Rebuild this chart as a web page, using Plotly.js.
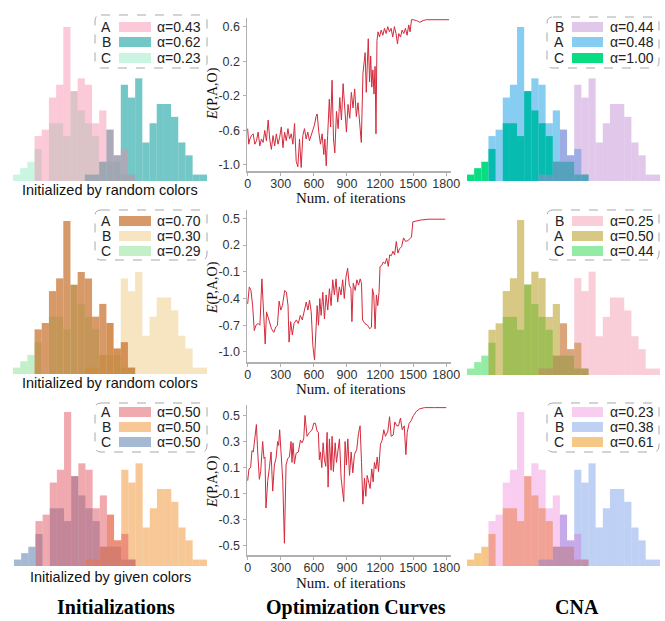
<!DOCTYPE html>
<html><head><meta charset="utf-8">
<script src="https://cdn.plot.ly/plotly-3.0.1.min.js"></script>
<style>html,body{margin:0;padding:0;background:#fff}#chart{width:665px;height:621px}</style>
</head><body><div id="chart"></div>
<script>
// ---------- DATA ----------
const bins = [0,1,2,3,4,5,6,7,8,9,10,11,12,13,14,15,16,17,18,19,20,21,22,23,24,25,26];
const countsA = [0,0,0,7,8,13,15,24,14,16,15,9,11,8,4,5,1,0,0,0,0,0,0,0,0,0,0];
const countsB = [0,0,0,0,0,0,0,0,0,0,1,1,3,8,4,15,13,16,6,9,12,12,10,6,4,1,1];
const countsC = [1,2,3,5,0,9,9,7,14,11,9,7,3,3,3,1,1,0,0,0,0,0,0,0,0,0,0];

const iters1 = [0,10,20,35,50,65,80,95,110,125,140,155,170,186,200,215,230,245,260,275,290,305,320,335,350,365,380,395,410,425,440,455,470,485,500,515,530,545,560,575,590,605,620,630,645,660,675,690,700,712,725,740,752,765,778,790,805,820,835,850,865,880,895,910,925,940,955,970,985,1000,1015,1030,1045,1055,1065,1075,1085,1093,1105,1115,1125,1135,1145,1155,1163,1172,1182,1195,1210,1225,1240,1255,1270,1285,1300,1315,1330,1345,1358,1370,1385,1400,1415,1430,1445,1460,1472,1485,1500,1530,1560,1590,1620,1700,1800,1825];
const energy1 = [-0.58,-0.76,-0.70,-0.66,-0.64,-0.76,-0.72,-0.62,-0.78,-0.70,-0.74,-0.60,-0.72,-0.48,-0.70,-0.82,-0.66,-0.78,-0.64,-0.76,-0.68,-0.56,-0.80,-0.62,-0.72,-0.58,-0.70,-0.64,-0.76,-0.52,-0.96,-1.02,-0.70,-1.03,-0.66,-0.58,-0.70,-0.62,-0.72,-0.66,-0.60,-0.54,-0.44,-0.41,-0.62,-0.76,-0.64,-0.88,-0.70,-1.01,-0.66,-0.24,-0.56,-0.02,-0.70,-0.86,-0.38,-0.58,-0.22,-0.48,-0.06,-0.40,-0.62,-0.30,-0.46,-0.16,-0.34,-0.12,-0.44,-0.28,-0.56,-0.74,0.06,0.22,0.30,-0.16,0.20,0.46,-0.04,0.26,-0.10,0.10,-0.18,0.14,-0.64,0.44,0.54,0.48,0.56,0.50,0.58,0.52,0.60,0.54,0.58,0.48,0.60,0.52,0.40,0.52,0.48,0.56,0.52,0.58,0.50,0.62,0.54,0.68,0.68,0.67,0.65,0.67,0.68,0.68,0.68,0.68];

const iters2 = [0,15,30,45,60,75,96,111,129,141,159,171,186,201,216,237,255,270,285,300,315,336,351,366,375,390,405,420,441,459,477,495,513,531,546,561,576,591,606,618,630,642,654,666,681,696,711,726,741,756,771,786,801,816,831,846,861,876,891,906,921,936,945,957,975,990,1005,1020,1032,1041,1062,1086,1107,1122,1131,1143,1155,1167,1179,1191,1200,1215,1230,1245,1260,1275,1287,1302,1317,1332,1347,1362,1377,1395,1413,1431,1452,1470,1485,1497,1521,1566,1641,1791];
const energy2 = [-0.46,-0.27,-0.31,-0.48,-0.76,-0.70,-0.68,-0.70,-0.18,-0.48,-0.91,-0.55,-0.62,-0.66,-0.74,-0.78,-0.72,-0.70,-0.43,-0.53,-0.48,-0.31,-0.33,-0.48,-0.89,-0.66,-0.81,-0.68,-0.64,-0.68,-0.59,-0.64,-0.55,-0.44,-0.53,-0.42,-0.55,-0.93,-1.09,-0.74,-0.48,-0.70,-0.40,-0.59,-0.33,-0.63,-0.36,-0.53,-0.29,-0.48,-0.19,-0.36,-0.18,-0.44,-0.27,-0.36,-0.19,-0.40,-0.16,-0.06,-0.25,-0.29,-0.66,-0.23,-0.31,-0.19,-0.25,-0.18,-0.23,-0.64,-0.68,-0.70,-0.74,-0.72,-0.29,-0.36,-0.74,-0.36,-0.48,-0.33,-0.04,-0.03,0.01,-0.01,0.05,-0.04,0.09,0.08,0.13,0.09,0.24,0.11,0.16,0.18,0.28,0.24,0.25,0.27,0.29,0.46,0.47,0.48,0.49,0.49];

const iters3 = [0,12,27,39,51,64,79,91,106,118,136,148,157,166,182,197,212,227,242,257,272,281,290,303,318,333,348,363,378,393,402,411,424,439,460,478,493,508,520,538,560,584,599,614,629,641,650,659,672,684,696,708,720,729,741,756,765,777,793,805,817,832,847,871,883,895,908,923,938,953,968,989,1004,1019,1032,1044,1059,1071,1083,1095,1110,1125,1137,1149,1162,1174,1186,1204,1219,1234,1249,1271,1286,1301,1319,1334,1352,1367,1385,1401,1419,1434,1446,1464,1482,1503,1528,1558,1603,1694,1800];
const energy3 = [0.00,0.09,0.10,0.23,0.22,0.31,0.43,0.22,0.01,0.07,0.30,0.17,0.18,-0.21,0.00,0.10,0.22,-0.08,0.12,0.17,0.30,0.27,0.39,0.21,0.00,-0.48,0.12,0.17,0.18,0.30,0.14,0.29,0.13,0.21,0.22,0.31,0.29,0.32,0.50,0.34,0.37,0.39,0.44,0.44,0.38,0.37,0.16,0.22,0.10,0.29,0.16,0.11,0.37,-0.05,0.32,0.08,0.34,0.07,0.29,0.14,0.24,0.32,0.02,-0.16,0.30,0.12,0.32,0.04,0.22,0.06,0.20,0.24,0.36,0.42,0.14,-0.18,0.02,-0.12,0.04,-0.01,-0.06,0.09,-0.01,0.14,0.09,0.18,0.07,0.28,0.31,0.39,0.34,0.38,0.49,0.34,0.35,0.45,0.42,0.42,0.48,0.39,0.42,0.20,0.37,0.44,0.46,0.50,0.53,0.55,0.56,0.56,0.56];

const xTicks = [0,300,600,900,1200,1500,1800];
const yTicks1 = [0.6,0.2,-0.2,-0.6,-1.0];
const yLabels1 = ['0.6','0.2','-0.2','-0.6','-1.0'];
const yTicks2 = [0.5,0.2,-0.1,-0.4,-0.7,-1.0];
const yLabels2 = ['0.5','0.2','-0.1','-0.4','-0.7','-1.0'];
const yTicks3 = [0.5,0.3,0.1,-0.1,-0.3,-0.5];
const yLabels3 = ['0.5','0.3','0.1','-0.1','-0.3','-0.5'];

const captions = ['Initialized by random colors','Initialized by random colors','Initialized by given colors'];
const columnTitles = ['Initializations','Optimization Curves','CNA'];
// ---------- END DATA ----------

const W = 665, H = 621;
const fx = v => v / W, fy = v => 1 - v / H;
const SANS = 'Liberation Sans, Arial, sans-serif';
const SERIF = 'Liberation Serif, Times New Roman, serif';
const counts = {A: countsA, B: countsB, C: countsC};

const histPanels = [
  {ax:1, xd:[13,207], yd:[181,27], legend:['A','B','C'],
   col:{A:'245,130,165',B:'30,165,165',C:'20,210,130'}, al:{A:0.43,B:0.62,C:0.23},
   box:[95,15,207,68], rows:[27,42,58], lx:106, sw:[119,151], ax2:179},
  {ax:3, xd:[467,660], yd:[181,27], legend:['B','A','C'],
   col:{A:'5,150,225',B:'187,130,210',C:'10,220,130'}, al:{A:0.48,B:0.44,C:1.00},
   box:[547,17,659,68], rows:[27,42,58], lx:559, sw:[572,603], ax2:632},
  {ax:4, xd:[13,207], yd:[374,221], legend:['A','B','C'],
   col:{A:'200,110,40',B:'225,170,45',C:'50,205,70'}, al:{A:0.70,B:0.30,C:0.29},
   box:[95,210,207,260], rows:[221,236,251], lx:106, sw:[119,151], ax2:179},
  {ax:6, xd:[467,660], yd:[375,220], legend:['B','A','C'],
   col:{A:'175,145,10',B:'230,60,100',C:'10,210,50'}, al:{A:0.50,B:0.25,C:0.44},
   box:[547,210,659,260], rows:[221,236,251], lx:559, sw:[572,603], ax2:632},
  {ax:7, xd:[14,207], yd:[566,412], legend:['A','B','C'],
   col:{A:'225,85,95',B:'240,145,45',C:'75,115,165'}, al:{A:0.50,B:0.50,C:0.50},
   box:[95,403,207,452], rows:[412,427,442], lx:106, sw:[119,151], ax2:179},
  {ax:9, xd:[467,660], yd:[566,412], legend:['A','B','C'],
   col:{A:'225,40,190',B:'85,135,230',C:'240,165,60'}, al:{A:0.23,B:0.38,C:0.61},
   box:[547,403,659,452], rows:[412,427,442], lx:559, sw:[572,603], ax2:632}
];

const linePanels = [
  {ax:2, yd:[171,18], range:[-1.07,0.70], x:iters1, y:energy1, tv:yTicks1, tt:yLabels1, titleY:198, ylab:94},
  {ax:5, yd:[362,210], range:[-1.1125,0.593], x:iters2, y:energy2, tv:yTicks2, tt:yLabels2, titleY:389, ylab:288},
  {ax:8, yd:[555,405], range:[-0.57,0.58], x:iters3, y:energy3, tv:yTicks3, tt:yLabels3, titleY:583, ylab:482}
];

function rrPath(x0,y0,x1,y1,r){
  const X=v=>fx(v).toFixed(5), Y=v=>fy(v).toFixed(5);
  return `M${X(x0+r)},${Y(y0)} L${X(x1-r)},${Y(y0)} Q${X(x1)},${Y(y0)} ${X(x1)},${Y(y0+r)} L${X(x1)},${Y(y1-r)} Q${X(x1)},${Y(y1)} ${X(x1-r)},${Y(y1)} L${X(x0+r)},${Y(y1)} Q${X(x0)},${Y(y1)} ${X(x0)},${Y(y1-r)} L${X(x0)},${Y(y0+r)} Q${X(x0)},${Y(y0)} ${X(x0+r)},${Y(y0)} Z`;
}

const traces = [];
const layout = {
  width: W, height: H, margin:{l:0,r:0,t:0,b:0},
  paper_bgcolor:'#ffffff', plot_bgcolor:'rgba(0,0,0,0)',
  barmode:'overlay', showlegend:false,
  shapes:[], annotations:[]
};
const axName = (p,i) => p + (i===1 ? '' : i);

histPanels.forEach(p => {
  const xa = axName('xaxis',p.ax), ya = axName('yaxis',p.ax);
  layout[xa] = {domain:[fx(p.xd[0]), fx(p.xd[1])], range:[-0.5,26.5], visible:false, anchor: axName('y',p.ax), fixedrange:true};
  layout[ya] = {domain:[fy(p.yd[0]), fy(p.yd[1])], range:[0,24], visible:false, anchor: axName('x',p.ax), fixedrange:true};
  const order = p.legend.slice().reverse();
  order.forEach(k => {
    traces.push({type:'bar', x:bins, y:counts[k], width:1,
      marker:{color:`rgba(${p.col[k]},${p.al[k]})`, line:{width:0}},
      xaxis:axName('x',p.ax), yaxis:axName('y',p.ax), hoverinfo:'skip'});
  });
  layout.shapes.push({type:'path', xref:'paper', yref:'paper', path:rrPath(p.box[0],p.box[1],p.box[2],p.box[3],6),
    line:{color:'#a8a8a8', width:1, dash:'dash'}, fillcolor:'rgba(255,255,255,0)'});
  p.legend.forEach((k,i) => {
    const ry = p.rows[i];
    layout.shapes.push({type:'rect', xref:'paper', yref:'paper', x0:fx(p.sw[0]), x1:fx(p.sw[1]), y0:fy(ry+5), y1:fy(ry-5),
      fillcolor:`rgba(${p.col[k]},${p.al[k]})`, line:{width:0}});
    layout.annotations.push({xref:'paper', yref:'paper', x:fx(p.lx), y:fy(ry), text:k, showarrow:false,
      xanchor:'center', yanchor:'middle', font:{family:SANS, size:14, color:'#222'}});
    layout.annotations.push({xref:'paper', yref:'paper', x:fx(p.ax2), y:fy(ry), text:'α='+p.al[k].toFixed(2), showarrow:false,
      xanchor:'center', yanchor:'middle', font:{family:SANS, size:14, color:'#222'}});
  });
});

linePanels.forEach(p => {
  const xa = axName('xaxis',p.ax), ya = axName('yaxis',p.ax);
  layout[xa] = {domain:[fx(247), fx(451)], range:[-6,1843], anchor:axName('y',p.ax),
    tickvals:xTicks, ticktext:xTicks.map(String), showline:true, linecolor:'#b0b0b0', linewidth:1.5,
    ticks:'outside', ticklen:3, tickcolor:'#b0b0b0', tickwidth:1, showgrid:false, zeroline:false,
    ticklabelstandoff:-3,
    tickfont:{family:SANS, size:12.5, color:'#333'}, fixedrange:true};
  layout[ya] = {domain:[fy(p.yd[0]), fy(p.yd[1])], range:p.range, anchor:axName('x',p.ax),
    tickvals:p.tv, ticktext:p.tt, showline:true, linecolor:'#b0b0b0', linewidth:1.5,
    ticks:'outside', ticklen:3, tickcolor:'#b0b0b0', tickwidth:1, showgrid:false, zeroline:false,
    tickfont:{family:SANS, size:12.5, color:'#333'}, fixedrange:true};
  traces.push({type:'scatter', mode:'lines', x:p.x, y:p.y, line:{color:'#d42a3c', width:1},
    xaxis:axName('x',p.ax), yaxis:axName('y',p.ax), hoverinfo:'skip'});
  layout.annotations.push({xref:'paper', yref:'paper', x:fx(351), y:fy(p.titleY), text:'Num. of iterations', showarrow:false,
    xanchor:'center', yanchor:'middle', font:{family:SERIF, size:15, color:'#111'}});
  layout.annotations.push({xref:'paper', yref:'paper', x:fx(213), y:fy(p.ylab), text:'<i>E</i>(P,A,O)', showarrow:false,
    textangle:-90, xanchor:'center', yanchor:'middle', font:{family:SERIF, size:14, color:'#111'}});
});

[190,383,577].forEach((yy,i) => {
  layout.annotations.push({xref:'paper', yref:'paper', x:fx(110), y:fy(yy), text:captions[i], showarrow:false,
    xanchor:'center', yanchor:'middle', font:{family:SANS, size:14.5, color:'#111'}});
});
[116,356,577].forEach((xx,i) => {
  layout.annotations.push({xref:'paper', yref:'paper', x:fx(xx), y:fy(607), text:'<b>'+columnTitles[i]+'</b>', showarrow:false,
    xanchor:'center', yanchor:'middle', font:{family:SERIF, size:20, color:'#000'}});
});

Plotly.newPlot('chart', traces, layout, {staticPlot:true, displayModeBar:false});
</script></body></html>
